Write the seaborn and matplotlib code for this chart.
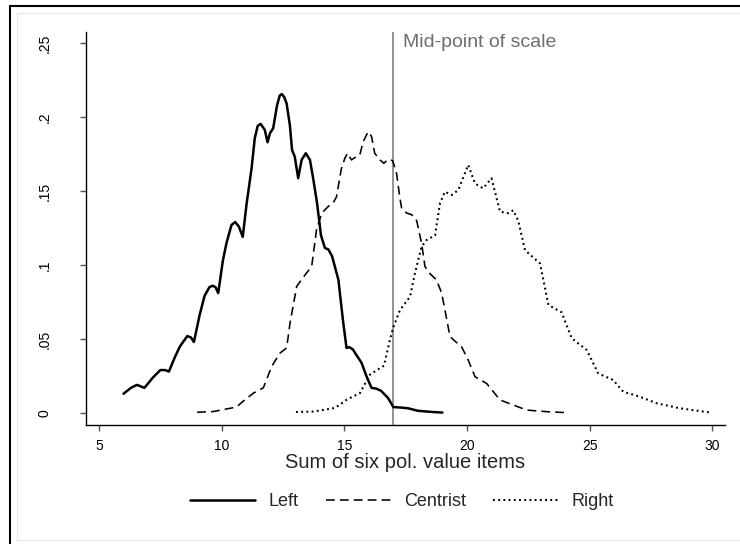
import numpy as np
import pandas as pd
import matplotlib
matplotlib.use("Agg")
import matplotlib.pyplot as plt
from matplotlib.patches import Rectangle
import seaborn as sns

# kernel density curves
left_x = [6.0, 6.3, 6.55, 6.85, 7.2, 7.5, 7.7, 7.85, 8.1, 8.3, 8.6, 8.75, 8.87, 9.1, 9.3,
          9.5, 9.63, 9.75, 9.86, 10.05, 10.2, 10.4, 10.55, 10.7, 10.86, 11.02, 11.22,
          11.35, 11.47, 11.59, 11.76, 11.87, 11.97, 12.1, 12.26, 12.37, 12.45, 12.55,
          12.65, 12.78, 12.87, 12.98, 13.12, 13.26, 13.43, 13.6, 13.73, 13.89, 14.05,
          14.21, 14.35, 14.5, 14.76, 14.95, 15.09, 15.2, 15.35, 15.5, 15.7, 15.9, 16.11,
          16.3, 16.5, 16.79, 17.0, 17.3, 17.6, 18.0, 18.5, 19.0]
left_y = [0.013, 0.017, 0.019, 0.017, 0.024, 0.029, 0.029, 0.028, 0.038, 0.045, 0.052,
          0.051, 0.048, 0.066, 0.079, 0.085, 0.086, 0.085, 0.081, 0.103, 0.115, 0.127,
          0.129, 0.126, 0.119, 0.1417, 0.1653, 0.1856, 0.194, 0.1953, 0.1912, 0.1829,
          0.189, 0.1923, 0.208, 0.2145, 0.2155, 0.2135, 0.209, 0.1946, 0.1777, 0.1732,
          0.1586, 0.171, 0.1755, 0.171, 0.1586, 0.1417, 0.12, 0.1115, 0.1105, 0.106,
          0.090, 0.062, 0.044, 0.0445, 0.043, 0.039, 0.034, 0.025, 0.017, 0.0165, 0.015,
          0.010, 0.004, 0.0037, 0.0032, 0.0015, 0.0008, 0.0003]

centrist_x = [9.0, 9.66, 10.6, 10.88, 11.3, 11.7, 12.04, 12.38, 12.65, 12.79, 13.06, 13.46,
              13.67, 13.87, 14.08, 14.35, 14.55, 14.68, 14.88, 15.02, 15.13, 15.29, 15.49,
              15.63, 15.77, 15.97, 16.11, 16.24, 16.45, 16.61, 16.79, 16.97, 17.13, 17.26,
              17.34, 17.55, 17.75, 17.95, 18.15, 18.29, 18.5, 18.76, 18.97, 19.31, 19.55,
              19.78, 20.05, 20.33, 20.8, 21.35, 21.89, 22.43, 23.25, 24.0]
centrist_y = [0.0005, 0.001, 0.004, 0.008, 0.0135, 0.017, 0.0315, 0.0405, 0.044, 0.061,
              0.0856, 0.0946, 0.099, 0.124, 0.135, 0.1396, 0.142, 0.146, 0.165, 0.172,
              0.1755, 0.171, 0.1732, 0.1743, 0.1833, 0.190, 0.1868, 0.1755, 0.171, 0.1687,
              0.1714, 0.1705, 0.162, 0.146, 0.138, 0.135, 0.134, 0.130, 0.1147, 0.0989,
              0.094, 0.0899, 0.081, 0.0516, 0.048, 0.0448, 0.0358, 0.0245, 0.020, 0.0088,
              0.0054, 0.002, 0.0009, 0.0003]

right_x = [13.03, 13.74, 14.62, 15.1, 15.64, 16.05, 16.62, 16.86, 17.0, 17.27, 17.68, 17.88,
           18.15, 18.36, 18.7, 18.9, 19.1, 19.38, 19.65, 20.05, 20.33, 20.66, 21.0, 21.35,
           21.68, 21.89, 22.09, 22.37, 22.98, 23.32, 23.86, 24.27, 24.88, 25.35, 25.96,
           26.37, 27.05, 27.73, 28.68, 29.97]
right_y = [0.0007, 0.001, 0.0034, 0.009, 0.0135, 0.026, 0.032, 0.0495, 0.058, 0.0696,
           0.0786, 0.0944, 0.1124, 0.117, 0.120, 0.1417, 0.1495, 0.1473, 0.1507, 0.1676,
           0.155, 0.1518, 0.1586, 0.136, 0.135, 0.137, 0.130, 0.110, 0.101, 0.073, 0.068,
           0.0505, 0.0426, 0.0268, 0.0223, 0.0144, 0.011, 0.0066, 0.0032, 0.0002]

groups = ["Left", "Centrist", "Right"]
x_ticks = [5, 10, 15, 20, 25, 30]
y_ticks = [0, 0.05, 0.1, 0.15, 0.2, 0.25]
y_tick_labels = ["0", ".05", ".1", ".15", ".2", ".25"]
midpoint = 17

df = pd.concat([
    pd.DataFrame({"score": left_x, "density": left_y, "group": "Left"}),
    pd.DataFrame({"score": centrist_x, "density": centrist_y, "group": "Centrist"}),
    pd.DataFrame({"score": right_x, "density": right_y, "group": "Right"}),
], ignore_index=True)

sns.set_style("ticks")
plt.rcParams["font.family"] = ["Liberation Sans", "DejaVu Sans"]

fig = plt.figure(figsize=(7.4, 5.44), dpi=100)
ax = fig.add_axes([86 / 740, 1 - 425 / 544, 639 / 740, 393 / 544])

styles = {
    "Left": dict(linestyle="-", lw=1.8),
    "Centrist": dict(linestyle=(0, (5.5, 3.2)), lw=1.15),
    "Right": dict(linestyle=(0, (0.9, 1.6)), lw=1.5),
}
for g in groups:
    sub = df[df["group"] == g]
    sns.lineplot(data=sub, x="score", y="density", color="black", ax=ax,
                 label=g, sort=False, estimator=None,
                 solid_joinstyle="round", dash_joinstyle="round", **styles[g])

ax.axvline(midpoint, color="#808080", lw=1.2, zorder=1)
ax.text(17.38, 0.25, "Mid-point of scale", color="#6e6e6e", fontsize=14,
        ha="left", va="center")

ax.set_xlim(4.47, 30.52)
ax.set_ylim(-0.0081, 0.2574)
ax.set_xticks(x_ticks)
ax.set_yticks(y_ticks)
ax.set_yticklabels(y_tick_labels, rotation=90, va="center")
ax.tick_params(axis="both", direction="out", length=4, width=1, color="#555555",
               labelsize=10, labelcolor="black")
ax.tick_params(axis="y", pad=21)
ax.tick_params(axis="x", pad=6)
ax.set_xlabel("Sum of six pol. value items", fontsize=14.5, labelpad=0)
ax.set_ylabel("")
sns.despine(ax=ax)
for s in ["left", "bottom"]:
    ax.spines[s].set_color("black")
    ax.spines[s].set_linewidth(1)

handles, labels = ax.get_legend_handles_labels()
ax.get_legend().remove()
fig.legend(handles, labels, ncol=3, loc="center", frameon=False, fontsize=13,
           bbox_to_anchor=(402 / 740, 1 - 502 / 544), handlelength=3.6,
           handletextpad=0.75, columnspacing=1.5)

# graph region borders (cropped at right and bottom)
fig.add_artist(Rectangle((9.5 / 740, -0.1), 1.2, 538 / 544 + 0.1, transform=fig.transFigure,
                         fill=False, edgecolor="black", lw=1.5, zorder=0))
fig.add_artist(Rectangle((17 / 740, 4 / 544), 1.2, 527 / 544, transform=fig.transFigure,
                         fill=False, edgecolor="#e4e4e4", lw=0.8, zorder=0))

fig.savefig("out.png", dpi=100)
